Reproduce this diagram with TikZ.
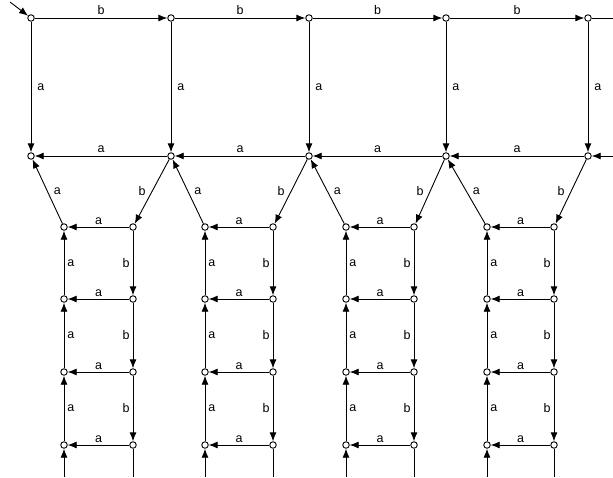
\documentclass[tikz,border=0pt]{standalone}
\usepackage{fontspec}
\setmainfont{Liberation Sans}
\usetikzlibrary{arrows.meta}

\begin{document}
\begin{tikzpicture}[
  x=1pt, y=-1pt,
  every node/.style={font=\fontsize{12.5}{14}\selectfont},
  state/.style={draw, circle, fill=white, minimum size=6.5pt, inner sep=0pt, line width=0.9pt},
  trans/.style={-{Latex[length=9pt,width=7pt]}, line width=0.9pt},
  plain/.style={line width=0.9pt},
  lbl/.style={inner sep=3pt}
]
\useasboundingbox (0,0) rectangle (613,477);

% top and middle rows
\foreach \i/\x in {1/31,2/171,3/309,4/446,5/588} {
  \node[state] (t\i) at (\x,18) {};
  \node[state] (m\i) at (\x,156) {};
}
% ladders
\foreach \k/\xl/\xr in {1/64/133,2/205/273,3/346/414,4/487/554} {
  \foreach \r/\y in {1/227,2/299,3/372,4/445} {
    \node[state] (l\k\r) at (\xl,\y) {};
    \node[state] (r\k\r) at (\xr,\y) {};
  }
  \coordinate (lin\k) at (\xl,477);
  \coordinate (rout\k) at (\xr,477);
}
\coordinate (start) at (10,2);
\coordinate (topend) at (613,18);
\coordinate (midend) at (613,156);

\draw[trans] (start) -- (t1);
\foreach \i [evaluate=\i as \j using int(\i+1)] in {1,...,4} {
  \draw[trans] (t\i) -- node[above, lbl] {b} (t\j);
  \draw[trans] (m\j) -- node[above, lbl] {a} (m\i);
}
\draw[plain] (t5) -- (topend);
\draw[trans] (midend) -- (m5);
\foreach \i in {1,...,5}
  \draw[trans] (t\i) -- node[right, lbl, xshift=3pt] {a} (m\i);

% diagonals
\foreach \k [evaluate=\k as \n using int(\k+1)] in {1,...,4} {
  \draw[trans] (l\k1) -- node[right, inner sep=6pt] {a} (m\k);
  \draw[trans] (m\n) -- node[left, inner sep=6pt] {b} (r\k1);
}

% ladder rungs and rails
\foreach \k in {1,...,4} {
  \foreach \r in {1,...,4}
    \draw[trans] (r\k\r) -- node[above, inner sep=1.5pt] {a} (l\k\r);
  \foreach \r [evaluate=\r as \n using int(\r+1)] in {1,...,3} {
    \draw[trans] (r\k\r) -- node[left, lbl] {b} (r\k\n);
    \draw[trans] (l\k\n) -- node[right, lbl] {a} (l\k\r);
  }
  \draw[trans] (lin\k) -- (l\k4);
  \draw[plain] (r\k4) -- (rout\k);
}

\end{tikzpicture}
\end{document}
